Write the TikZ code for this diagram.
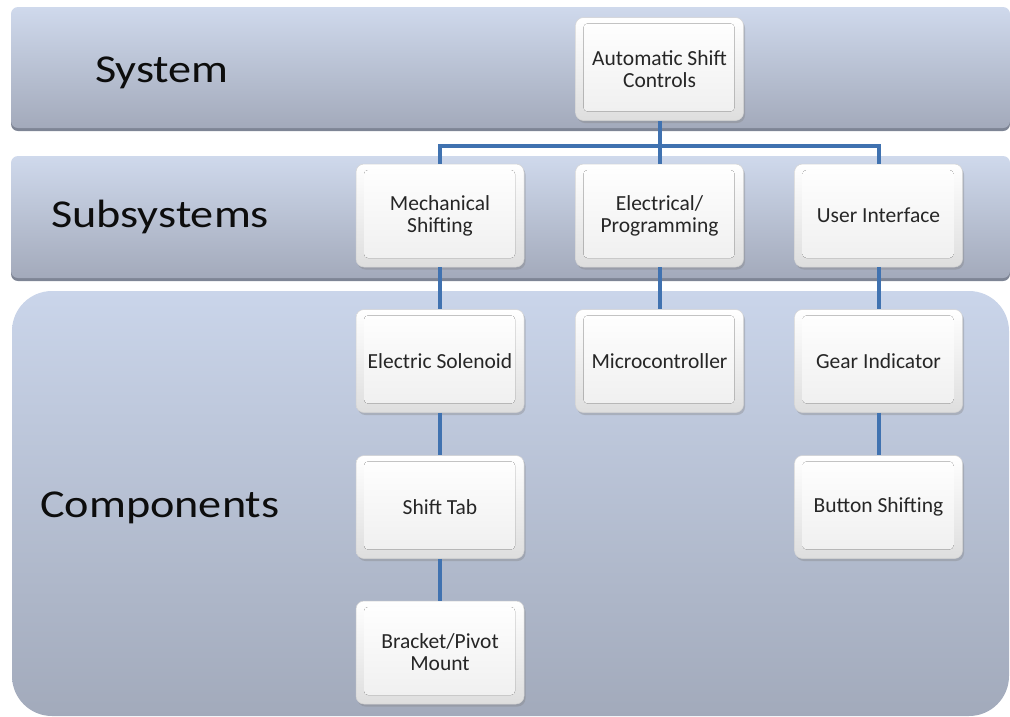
\documentclass[tikz,border=0pt]{standalone}
\usepackage{fontspec}
\setmainfont{Carlito}
\newfontfamily\bandfont[FakeStretch=1.17]{Carlito}
\usetikzlibrary{shadows}
\definecolor{connblue}{HTML}{4072B0}
\definecolor{bandtop}{HTML}{CFD9EC}
\definecolor{bandbot}{HTML}{A3AABB}
\definecolor{bandedge}{HTML}{7E8595}
\definecolor{comptop}{HTML}{CAD5EA}
\definecolor{compbot}{HTML}{A2AABB}
\tikzset{
  box/.style={rounded corners=8pt, minimum width=168pt, minimum height=103pt,
    top color=white, bottom color=gray!26, draw=gray!35, line width=0.5pt,
    align=center, font=\fontsize{21.5}{22}\selectfont, text=black!85,
    drop shadow={opacity=0.35, shadow xshift=1.5pt, shadow yshift=-2.5pt},
    path picture={\fill[rounded corners=4pt, top color=white, bottom color=gray!13]
      ([shift={(8pt,-6pt)}]path picture bounding box.north west) rectangle
      ([shift={(-9pt,9pt)}]path picture bounding box.south east);}},
  conn/.style={draw=connblue, line width=4pt},
  bandlabel/.style={anchor=base west, inner sep=0pt,
    font=\bandfont\fontsize{39.5}{44}\selectfont, text=black!95},
}
\begin{document}
\begin{tikzpicture}[x=1pt, y=-1pt]
\useasboundingbox (0,0) rectangle (1010,716);
% bands
\fill[bandedge, rounded corners=7pt] (11,9) rectangle (1010,131);
\shade[top color=bandtop, bottom color=bandbot, rounded corners=7pt] (11,7) rectangle (1010,128);
\fill[bandedge, rounded corners=7pt] (11,158) rectangle (1010,281);
\shade[top color=bandtop, bottom color=bandbot, rounded corners=7pt] (11,156) rectangle (1010,278);
\shade[top color=comptop, bottom color=compbot, rounded corners=40pt] (12,291) rectangle (1009,716);
% band labels
\node[bandlabel] (lsys) at (95,82) {System};
\node[bandlabel] (lsub) at (51,227) {Subsystems};
\node[bandlabel] (lcomp) at (40,517) {Components};
% boxes
\node[box] (auto) at (659.5,69) {Automatic Shift\\Controls};
\node[box] (mech) at (440,215.5) {Mechanical\\Shifting};
\node[box] (elec) at (659.5,215.5) {Electrical/\\Programming};
\node[box] (ui) at (878.5,215.5) {User Interface};
\node[box] (sol) at (440,361) {Electric Solenoid};
\node[box] (micro) at (659.5,361) {Microcontroller};
\node[box] (gear) at (878.5,361) {Gear Indicator};
\node[box] (tab) at (440,507) {Shift Tab};
\node[box] (button) at (878.5,507) {Button Shifting};
\node[box] (bracket) at (440,652.5) {Bracket/Pivot\\Mount};
% connectors
\coordinate (bus) at (659.5,146);
\draw[conn] (auto.south) -- (bus);
\draw[conn] (mech.north) |- (bus) -| (ui.north);
\draw[conn] (bus) -- (elec.north);
\draw[conn] (mech.south) -- (sol.north);
\draw[conn] (sol.south) -- (tab.north);
\draw[conn] (tab.south) -- (bracket.north);
\draw[conn] (elec.south) -- (micro.north);
\draw[conn] (ui.south) -- (gear.north);
\draw[conn] (gear.south) -- (button.north);
\end{tikzpicture}
\end{document}
